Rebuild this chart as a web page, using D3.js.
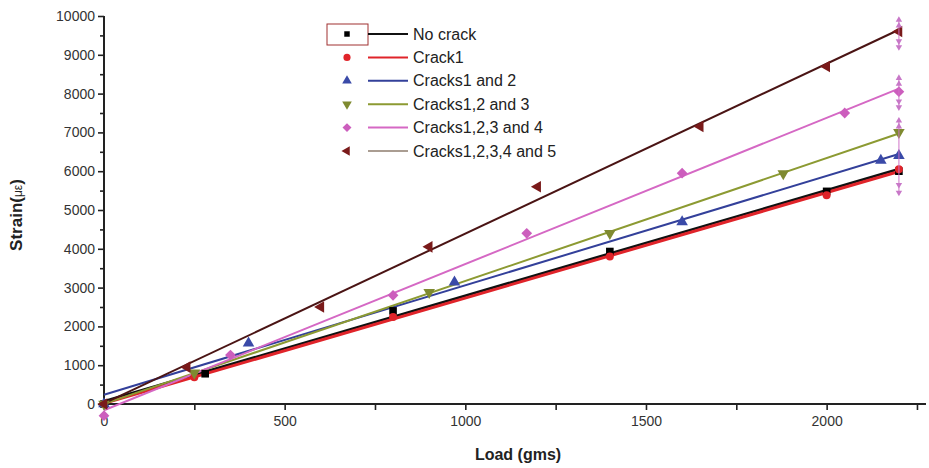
<!DOCTYPE html>
<html>
<head>
<meta charset="utf-8">
<script src="https://cdn.jsdelivr.net/npm/d3@7"></script>
<style>
  html, body { margin: 0; padding: 0; background: #fff; }
  text { font-family: "Liberation Sans", Arial, sans-serif; }
</style>
</head>
<body>
<div id="chart"></div>
<script>
// data
const seriesNames = ["No crack", "Crack1", "Cracks1 and 2", "Cracks1,2 and 3", "Cracks1,2,3 and 4", "Cracks1,2,3,4 and 5"];

const loadNoCrack = [0, 280, 800, 1400, 2000, 2200];
const strainNoCrack = [0, 780, 2400, 3930, 5480, 6000];

const loadCrack1 = [0, 250, 800, 1400, 2000, 2200];
const strainCrack1 = [0, 690, 2240, 3800, 5380, 6050];

const loadCracks12 = [0, 400, 970, 1600, 2150, 2200];
const strainCracks12 = [0, 1570, 3140, 4690, 6280, 6400];

const loadCracks123 = [0, 250, 900, 1400, 1880, 2200];
const strainCracks123 = [0, 800, 2880, 4400, 5940, 7000];

const loadCracks1234 = [0, 350, 800, 1170, 1600, 2050, 2200];
const strainCracks1234 = [-300, 1260, 2800, 4400, 5950, 7500, 8050];

const loadCracks12345 = [0, 230, 600, 900, 1200, 1650, 2000, 2200];
const strainCracks12345 = [0, 950, 2500, 4050, 5600, 7150, 8700, 9600];

// the little up/down arrow bars at the last load step
const endBarLoad = 2200;
const endBarRanges = [[9150, 9950], [7600, 8450], [5400, 7350]];
const endArrowsUp = [9900, 9750, 8400, 8250, 7300, 7150];
const endArrowsDown = [9350, 9200, 7800, 7650, 5650, 5450];

const xTicks = [0, 500, 1000, 1500, 2000];
const xMinorTicks = [250, 750, 1250, 1750, 2250];
const yTicks = [0, 1000, 2000, 3000, 4000, 5000, 6000, 7000, 8000, 9000, 10000];
const yMinorTicks = [500, 1500, 2500, 3500, 4500, 5500, 6500, 7500, 8500, 9500];

const width = 929, height = 468;

const series = [
  {name: seriesNames[0], load: loadNoCrack, strain: strainNoCrack, color: "#111", mark: "#000", lw: 2.6, sym: "square"},
  {name: seriesNames[1], load: loadCrack1, strain: strainCrack1, color: "#e0242a", mark: "#e0242a", lw: 3, sym: "circle"},
  {name: seriesNames[2], load: loadCracks12, strain: strainCracks12, color: "#33409a", mark: "#3a4aa8", lw: 2, sym: "up"},
  {name: seriesNames[3], load: loadCracks123, strain: strainCracks123, color: "#8c9a32", mark: "#7f8a30", lw: 2, sym: "down"},
  {name: seriesNames[4], load: loadCracks1234, strain: strainCracks1234, color: "#d568c4", mark: "#cc5ebd", lw: 2, sym: "diamond"},
  {name: seriesNames[5], load: loadCracks12345, strain: strainCracks12345, color: "#4a1414", mark: "#7a1a1a", lw: 2, sym: "left", legendColor: "#aa9d92"}
];

const svg = d3.select("#chart").append("svg")
  .attr("width", width)
  .attr("height", height);

const x = d3.scaleLinear().domain([0, 2275]).range([104, 926]);
const y = d3.scaleLinear().domain([0, 10000]).range([404, 16]);

function symbolPath(kind, s) {
  if (kind === "square") return d3.symbol(d3.symbolSquare, s)();
  if (kind === "circle") return d3.symbol(d3.symbolCircle, s)();
  if (kind === "diamond") return d3.symbol(d3.symbolSquare, s)();
  return d3.symbol(d3.symbolTriangle, s)();
}
function symbolRotate(kind) {
  if (kind === "down") return 180;
  if (kind === "left") return -90;
  if (kind === "diamond") return 45;
  return 0;
}

// axes
const yAxis = d3.axisLeft(y).tickValues(yTicks).tickSize(6).tickPadding(3).tickFormat(d3.format("d"));
svg.append("g").attr("transform", `translate(${x(0)},0)`).call(yAxis);
const yMinor = d3.axisLeft(y).tickValues(yMinorTicks).tickSize(4).tickFormat("");
svg.append("g").attr("transform", `translate(${x(0)},0)`).call(yMinor);

const xAxis = d3.axisBottom(x).tickValues(xTicks).tickSize(6).tickPadding(6).tickFormat(d3.format("d"));
svg.append("g").attr("transform", `translate(0,${y(0)})`).call(xAxis);
const xMinor = d3.axisBottom(x).tickValues(xMinorTicks).tickSize(6).tickFormat("");
svg.append("g").attr("transform", `translate(0,${y(0)})`).call(xMinor);

// plain axis lines without outer ticks
svg.selectAll(".domain").remove();
svg.append("line").attr("x1", x(0)).attr("x2", x(0)).attr("y1", y(10000)).attr("y2", y(0))
  .attr("stroke", "#222").attr("stroke-width", 2);
svg.append("line").attr("x1", x(0)).attr("x2", x(2275)).attr("y1", y(0)).attr("y2", y(0))
  .attr("stroke", "#222").attr("stroke-width", 2);

svg.selectAll(".tick line").attr("stroke", "#222").attr("stroke-width", 1.6);
svg.selectAll(".tick text").attr("fill", "#333").style("font-size", "14px")
  .style("font-family", "'Liberation Sans', Arial, sans-serif");

// axis titles
svg.append("text")
  .attr("x", 518).attr("y", 460)
  .attr("text-anchor", "middle")
  .style("font-size", "16px").style("font-weight", "bold").attr("fill", "#222")
  .text("Load (gms)");

const yt = svg.append("text")
  .attr("transform", "translate(22,215) rotate(-90)")
  .attr("text-anchor", "middle")
  .style("font-size", "17px").style("font-weight", "bold").attr("fill", "#222");
yt.append("tspan").text("Strain(");
yt.append("tspan").style("font-size", "12px").style("font-weight", "normal").text("με");
yt.append("tspan").text(")");

// fitted lines
series.forEach(s => {
  const mx = d3.mean(s.load), my = d3.mean(s.strain);
  const slope = d3.sum(s.load, (v, i) => (v - mx) * (s.strain[i] - my)) / d3.sum(s.load, v => (v - mx) * (v - mx));
  const b = my - slope * mx;
  const x0 = d3.min(s.load), x1 = d3.max(s.load);
  svg.append("line")
    .attr("x1", x(x0)).attr("y1", y(b + slope * x0))
    .attr("x2", x(x1)).attr("y2", y(b + slope * x1))
    .attr("stroke", s.color).attr("stroke-width", s.lw);
});

// markers
series.forEach(s => {
  svg.append("g").selectAll("path")
    .data(s.load.map((v, i) => [v, s.strain[i]]))
    .join("path")
    .attr("d", symbolPath(s.sym, s.sym === "circle" ? 50 : 58))
    .attr("transform", d => `translate(${x(d[0])},${y(d[1])}) rotate(${symbolRotate(s.sym)})`)
    .attr("fill", s.mark);
});

// arrow bars at the last step
svg.append("g").selectAll("line")
  .data(endBarRanges)
  .join("line")
  .attr("x1", x(endBarLoad)).attr("x2", x(endBarLoad))
  .attr("y1", d => y(d[0])).attr("y2", d => y(d[1]))
  .attr("stroke", "#d070c8").attr("stroke-width", 1.2).attr("opacity", 0.8);
svg.append("g").selectAll("path")
  .data(endArrowsUp)
  .join("path")
  .attr("d", d3.symbol(d3.symbolTriangle, 18)())
  .attr("transform", d => `translate(${x(endBarLoad)},${y(d)})`)
  .attr("fill", "#c878c8");
svg.append("g").selectAll("path")
  .data(endArrowsDown)
  .join("path")
  .attr("d", d3.symbol(d3.symbolTriangle, 18)())
  .attr("transform", d => `translate(${x(endBarLoad)},${y(d)}) rotate(180)`)
  .attr("fill", "#c878c8");

// legend
const legend = svg.append("g");
const lgX = 347, lgY0 = 34, lgStep = 23.4;
legend.append("rect")
  .attr("x", 327).attr("y", 24).attr("width", 41).attr("height", 21)
  .attr("fill", "none").attr("stroke", "#a03030").attr("stroke-width", 1);
series.forEach((s, i) => {
  const yy = lgY0 + i * lgStep;
  legend.append("path")
    .attr("d", symbolPath(s.sym, s.sym === "square" ? 30 : 40))
    .attr("transform", `translate(${lgX},${yy}) rotate(${symbolRotate(s.sym)})`)
    .attr("fill", s.mark);
  legend.append("line")
    .attr("x1", 368).attr("x2", 408)
    .attr("y1", yy).attr("y2", yy)
    .attr("stroke", s.legendColor || s.color).attr("stroke-width", 2);
  legend.append("text")
    .attr("x", 413).attr("y", yy)
    .attr("dy", "0.35em")
    .style("font-size", "16px").attr("fill", "#222")
    .text(s.name);
});
</script>
</body>
</html>
